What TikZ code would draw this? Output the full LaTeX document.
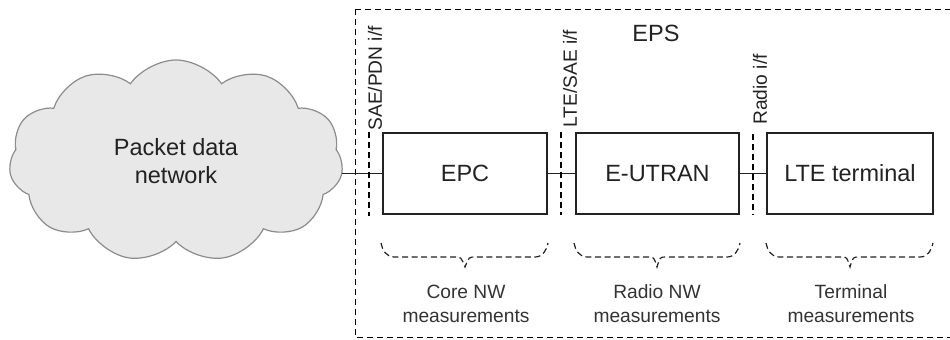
\documentclass[tikz,border=0pt]{standalone}
\usepackage{fontspec}
\setmainfont{Liberation Sans}
\usetikzlibrary{shapes.symbols}
\definecolor{txt}{HTML}{222222}
\definecolor{txtlight}{HTML}{333333}
\definecolor{cloudfill}{HTML}{E8E8E8}
\definecolor{cloudline}{HTML}{8C8C8C}
\tikzset{
  blk/.style={draw=txt, line width=0.65pt, minimum height=40.5pt, inner sep=0pt,
    font=\fontsize{11.75}{14}\selectfont, text=txt},
  pdncloud/.style={cloud, cloud puffs=11, cloud puff arc=110, aspect=1.7,
    draw=cloudline, fill=cloudfill, line width=0.6pt,
    minimum width=167pt, minimum height=101pt, inner sep=0pt, align=center,
    font=\fontsize{11.75}{14}\selectfont, text=txt},
  conn/.style={draw=txt, line width=0.65pt},
  epsdash/.style={draw=black, line width=0.5pt, dash pattern=on 3.2pt off 1.8pt},
  ifdash/.style={draw=black, line width=0.6pt, dash pattern=on 3.2pt off 1.8pt},
  bracedash/.style={draw=txt, line width=0.6pt, dash pattern=on 3pt off 1.8pt},
  iflabel/.style={rotate=90, anchor=west, inner sep=0pt,
    font=\fontsize{9.6}{11}\selectfont, text=txt},
  meas/.style={align=center, inner sep=0pt,
    font=\fontsize{9.6}{12}\selectfont, text=txtlight},
  epslabel/.style={inner sep=0pt, font=\fontsize{11.75}{14}\selectfont, text=txt}
}
\begin{document}
\begin{tikzpicture}[x=0.5pt,y=-0.5pt]
\useasboundingbox (0,0) rectangle (950,339);
\begin{scope}
  \clip (0,0) rectangle (950,339);
  \draw[epsdash] (355,9) rectangle (960,337);
\end{scope}
\node[epslabel] (eps) at (656,33) {EPS};

% cloud
\node[pdncloud] (pdn) at (176,161) {Packet data\\network};

% boxes
\node[blk, minimum width=82pt] (epc) at (465,173.5) {EPC};
\node[blk, minimum width=81.5pt] (eutran) at (657.5,173.5) {E-UTRAN};
\node[blk, minimum width=83pt] (lte) at (850,173.5) {LTE terminal};

% connectors
\draw[conn] (pdn.east |- epc.west) -- (epc.west);
\draw[conn] (epc.east) -- (eutran.west);
\draw[conn] (eutran.east) -- (lte.west);

% interface lines
\coordinate (if1t) at (369,132); \coordinate (if1b) at (369,216);
\coordinate (if2t) at (561,132); \coordinate (if2b) at (561,215);
\coordinate (if3t) at (753,134); \coordinate (if3b) at (753,215);
\draw[ifdash] (if1t) -- (if1b);
\draw[ifdash] (if2t) -- (if2b);
\draw[ifdash] (if3t) -- (if3b);

% interface labels
\node[iflabel] (l1) at (375,131) {SAE/PDN i/f};
\node[iflabel] (l2) at (570,128) {LTE/SAE i/f};
\node[iflabel] (l3) at (760,125) {Radio i/f};

% braces
\draw[bracedash] (381,243) to[out=-80,in=180] (394,257) -- (455,257)
  .. controls (461,257) .. (465,267) .. controls (469,257) .. (475,257)
  -- (535,257) to[out=0,in=-100] (548,243);
\draw[bracedash] (574,243) to[out=-80,in=180] (587,257) -- (648,257)
  .. controls (654,257) .. (657,267) .. controls (660,257) .. (666,257)
  -- (727,257) to[out=0,in=-100] (740,243);
\draw[bracedash] (766,243) to[out=-80,in=180] (779,257) -- (841,257)
  .. controls (847,257) .. (850,267) .. controls (853,257) .. (859,257)
  -- (920,257) to[out=0,in=-100] (933,243);

% measurement labels
\node[meas] (m1) at (466,304) {Core NW\\measurements};
\node[meas] (m2) at (657,304) {Radio NW\\measurements};
\node[meas] (m3) at (851,304) {Terminal\\measurements};
\end{tikzpicture}
\end{document}
